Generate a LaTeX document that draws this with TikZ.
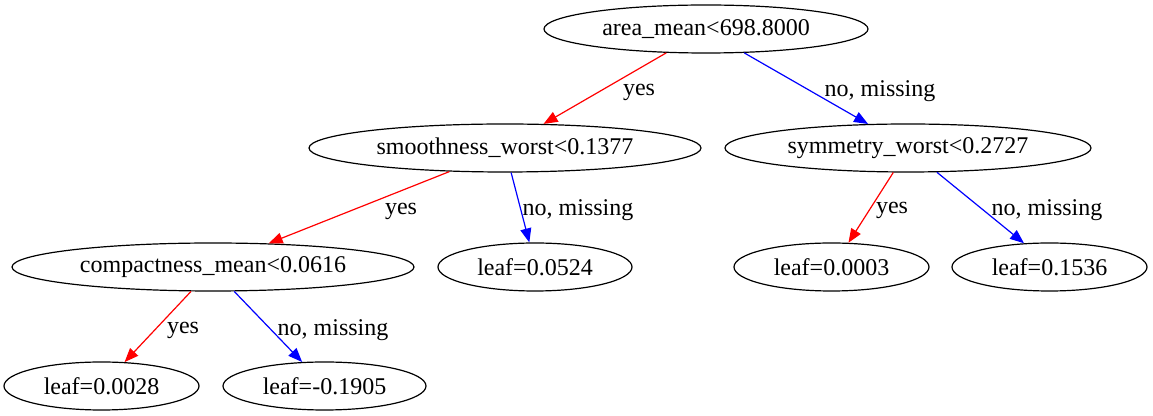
\documentclass[tikz,border=0pt]{standalone}
\usepackage{fontspec}
\setmainfont{Liberation Serif}
\usetikzlibrary{arrows.meta,shapes.geometric}
\begin{document}
\begin{tikzpicture}[x=0.5pt,y=-0.5pt,
  tnode/.style={draw=black,ellipse,line width=0.6pt,inner sep=0pt,minimum height=24pt,font=\fontsize{12}{14}\selectfont},
  lbl/.style={inner sep=0pt,font=\fontsize{12}{14}\selectfont},
  yesedge/.style={draw=red,line width=0.6pt,-{Triangle[length=7pt,width=5.5pt]},red},
  noedge/.style={draw=blue,line width=0.6pt,-{Triangle[length=7pt,width=5.5pt]},blue}]
\useasboundingbox (0,0) rectangle (1153,416);
\node[tnode,minimum width=162pt] (area) at (706,29) {area\_mean<698.8000};
\node[tnode,minimum width=196pt] (smooth) at (505,148) {smoothness\_worst<0.1377};
\node[tnode,minimum width=183pt] (sym) at (908,148) {symmetry\_worst<0.2727};
\node[tnode,minimum width=201pt] (comp) at (213,267) {compactness\_mean<0.0616};
\node[tnode,minimum width=97pt] (l0524) at (535,267) {leaf=0.0524};
\node[tnode,minimum width=97.5pt] (l0003) at (831.5,267) {leaf=0.0003};
\node[tnode,minimum width=97.5pt] (l1536) at (1049.5,267) {leaf=0.1536};
\node[tnode,minimum width=97.5pt] (l0028) at (101.5,386) {leaf=0.0028};
\node[tnode,minimum width=101.5pt] (lm1905) at (324.5,386) {leaf=-0.1905};
\draw[yesedge] (area.211.6) -- (smooth.32);
\draw[noedge] (area.328.4) -- (sym.149);
\draw[yesedge] (smooth.203) -- (comp.23);
\draw[noedge] (smooth.284) -- (l0524.103.5);
\draw[yesedge] (sym.239) -- (l0003.55.5);
\draw[noedge] (sym.320) -- (l1536.137.8);
\draw[yesedge] (comp.228.7) -- (l0028.46.8);
\draw[noedge] (comp.311.3) -- (lm1905.133.2);
\node[lbl] (t1) at (639,92) {yes};
\node[lbl] (t2) at (880,91) {no, missing};
\node[lbl] (t3) at (401,211) {yes};
\node[lbl] (t4) at (578,210) {no, missing};
\node[lbl] (t5) at (892,210) {yes};
\node[lbl] (t6) at (1047,210) {no, missing};
\node[lbl] (t7) at (183,330) {yes};
\node[lbl] (t8) at (333,330) {no, missing};
\end{tikzpicture}
\end{document}
